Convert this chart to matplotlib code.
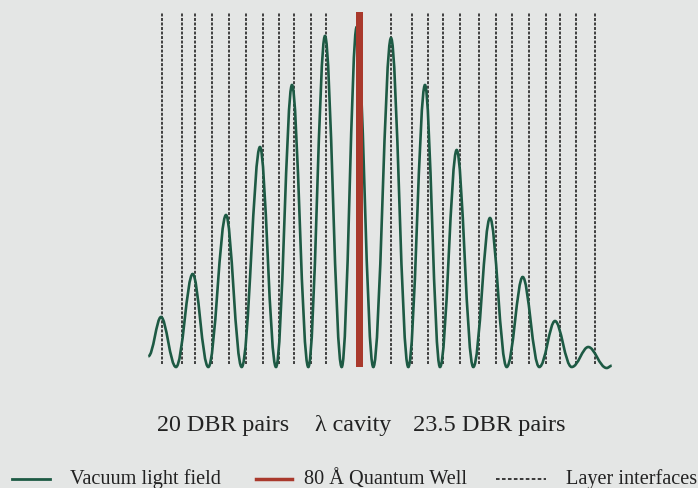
import matplotlib
matplotlib.use("Agg")
import matplotlib.pyplot as plt
from matplotlib.path import Path
from matplotlib.patches import PathPatch
from matplotlib.lines import Line2D

OUTPUT_FIG = "out.png"

# vacuum light field intensity: start point, then alternating peaks / troughs
field_x = [148.3, 161.0, 176.0, 192.7, 208.3, 226.0, 241.7, 260.0, 276.0, 292.0,
           308.3, 325.0, 341.7, 356.7, 373.3, 391.0, 408.3, 425.0, 440.0, 456.7,
           473.3, 490.0, 506.7, 522.7, 539.3, 555.0, 571.7, 588.3, 606.7, 611.7]
field_y = [10.7, 50.0, 0.0, 93.0, 0.0, 152.0, 0.0, 220.0, 0.0, 282.0,
           0.0, 331.0, 0.0, 340.0, 0.0, 329.0, 0.0, 282.0, 0.0, 217.0,
           0.0, 149.0, 0.0, 90.0, 0.0, 46.0, 0.0, 20.0, -1.0, 1.3]

# layer interfaces (20 DBR pairs on the left, 23.5 on the right)
interfaces_left = [162.3, 181.7, 195.0, 211.7, 229.0, 246.0, 262.7, 278.7, 294.3, 310.7, 326.0]
interfaces_right = [391.0, 412.3, 427.5, 443.0, 460.0, 479.2, 495.7, 512.3, 529.0, 545.7,
                    559.6, 576.0, 595.2]
interface_bottom = 3
interface_top = 355

# quantum well position
qw_x = [359.5]
qw_top = [355]

region_labels = ["20 DBR pairs", "\u03bb cavity", "23.5 DBR pairs"]
legend_labels = ["Vacuum light field", "80 \u00c5 Quantum Well", "Layer interfaces"]

GREEN = "#1d5a44"
RED = "#a9392c"
DASH = "#2b2b2b"
BG = "#e4e6e5"


def field_path():
    verts = [(field_x[0], field_y[0])]
    codes = [Path.MOVETO]
    for i in range(len(field_x) - 1):
        x0, y0 = field_x[i], field_y[i]
        x1, y1 = field_x[i + 1], field_y[i + 1]
        dx = x1 - x0
        k0 = 0.39 if y0 < y1 else 0.35
        k1 = 0.39 if y1 < y0 else 0.35
        verts += [(x0 + k0 * dx, y0), (x1 - k1 * dx, y1), (x1, y1)]
        codes += [Path.CURVE4] * 3
    return Path(verts, codes)


def plot_cavity():
    plt.rcParams["font.family"] = ["Liberation Serif", "DejaVu Serif"]
    fig = plt.figure(figsize=(6.98, 4.89), dpi=100, facecolor=BG)
    ax = fig.add_axes([0, 0, 1, 1])
    ax.set_facecolor(BG)
    ax.set_xlim(0, 698)
    ax.set_ylim(368 - 489, 368)
    ax.axis("off")

    ax.vlines(interfaces_left + interfaces_right, interface_bottom, interface_top,
              colors=DASH, linewidth=1.25, linestyles=(0, (1.7, 0.9)), zorder=1)
    ax.add_patch(PathPatch(field_path(), facecolor="none", edgecolor=GREEN,
                           linewidth=1.9, zorder=2))
    ax.bar(qw_x, qw_top, width=7, bottom=0, color=RED, zorder=3)

    # region labels under the structure
    ax.text(157, 368 - 431, region_labels[0], fontsize=17.3, va="baseline", color="#222222")
    ax.text(315, 368 - 431, region_labels[1], fontsize=17.3, va="baseline", color="#222222")
    ax.text(413, 368 - 431, region_labels[2], fontsize=17.6, va="baseline", color="#222222")

    # legend row
    H = 489.0
    y_key = 1 - 480 / H
    fig.add_artist(Line2D([12 / 698, 50 / 698], [y_key, y_key], color=GREEN, linewidth=2))
    fig.add_artist(Line2D([256 / 698, 292 / 698], [y_key, y_key], color=RED, linewidth=2.5))
    fig.add_artist(Line2D([496 / 698, 546 / 698], [y_key, y_key], color=DASH,
                          linewidth=1.3, linestyle=(0, (2.0, 1.3))))
    y_txt = 1 - 484 / H
    fig.text(70 / 698, y_txt, legend_labels[0], fontsize=14.6, va="baseline", color="#222222")
    fig.text(304 / 698, y_txt, legend_labels[1], fontsize=14.6, va="baseline", color="#222222")
    fig.text(566 / 698, y_txt, legend_labels[2], fontsize=14.6, va="baseline", color="#222222")

    fig.savefig(OUTPUT_FIG, dpi=100, facecolor=BG)


plot_cavity()
